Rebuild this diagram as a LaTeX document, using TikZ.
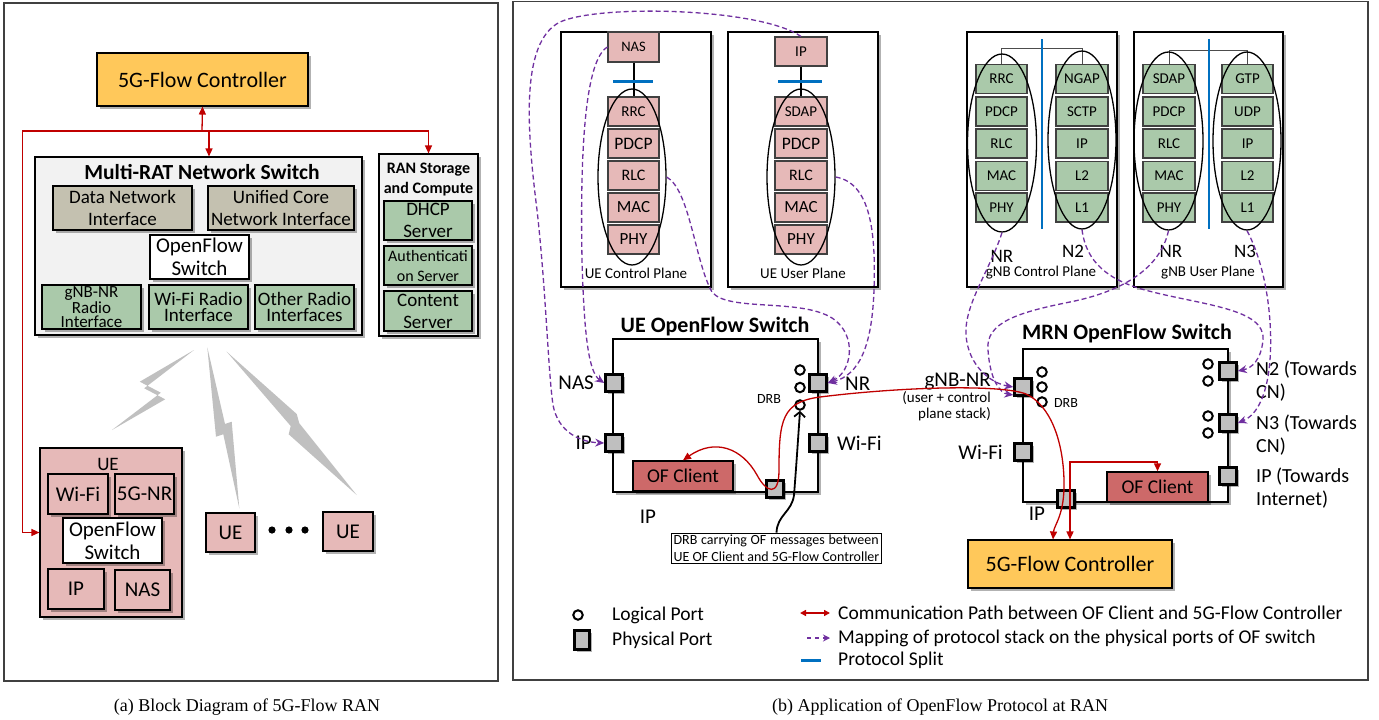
\documentclass[tikz,border=0pt]{standalone}
\usepackage{fontspec}
\setmainfont{Carlito}
\newfontfamily\capfont{Liberation Serif}
\usetikzlibrary{arrows.meta,shadows,shapes.geometric}
\newcommand\fsz[2]{\fontsize{#1}{#2}\selectfont}
\definecolor{ctl}{RGB}{255,200,90}
\definecolor{pinkc}{RGB}{230,185,184}
\definecolor{greenc}{RGB}{170,201,170}
\definecolor{beigec}{RGB}{196,193,176}
\definecolor{lgray}{RGB}{242,242,242}
\definecolor{ofc}{RGB}{205,105,105}
\definecolor{portc}{RGB}{191,191,191}
\definecolor{redc}{RGB}{192,0,0}
\definecolor{purc}{RGB}{112,48,160}
\definecolor{bluec}{RGB}{0,112,192}
\definecolor{boltc}{RGB}{192,192,192}
\begin{document}
\begin{tikzpicture}[x=1pt,y=-1pt,
  shd/.style={drop shadow={shadow xshift=2.5pt,shadow yshift=-2.5pt,opacity=0.3,fill=black}},
  mframe/.style={draw=black!75,line width=1.2pt},
  mbox/.style={draw=black,line width=1.1pt,inner sep=0pt,align=center,shd},
  stk/.style={draw=black!75,line width=1.1pt,inner sep=0pt,minimum width=51pt,minimum height=29pt,font=\fsz{15}{17}},
  mport/.style={draw=black,line width=2.6pt,fill=portc,minimum size=17pt,inner sep=0pt,shd},
  mlport/.style={circle,draw=black,line width=2pt,fill=white,minimum size=9.5pt,inner sep=0pt},
  mell/.style={ellipse,draw=black,line width=1.3pt,inner sep=0pt},
  redarr/.style={draw=redc,line width=1.3pt,-{Triangle[length=8pt,width=7pt]}},
  redboth/.style={draw=redc,line width=1.5pt,{Triangle[length=8pt,width=7pt]}-{Triangle[length=8pt,width=7pt]}},
  purarr/.style={draw=purc,line width=1.3pt,dash pattern=on 5pt off 3pt,-{Stealth[length=9pt,width=8pt]}},
  lbl/.style={inner sep=0pt,font=\fsz{21}{24}}
]
\useasboundingbox (0,0) rectangle (1379,720);
\fill[white] (0,0) rectangle (1379,720);

% ================= Panel (a) =================
\draw[mframe] (4,3) rectangle (498,681);
\node[mbox,fill=ctl,minimum width=211pt,minimum height=53pt,font=\fsz{22}{26}] (ctlA) at (202.5,79.5) {5G-Flow Controller};

\node[mbox,fill=lgray,minimum width=327pt,minimum height=178pt] (mrs) at (198.5,246) {};
\node[font=\bfseries\fsz{21.5}{24}] (mrsT) at (202,172) {Multi-RAT Network Switch};
\node[mbox,fill=beigec,minimum width=139pt,minimum height=44pt,font=\fsz{19}{22}] (dni) at (122.5,208) {Data Network\\Interface};
\node[mbox,fill=beigec,minimum width=146pt,minimum height=44pt,font=\fsz{19}{22}] (uci) at (281,208) {Unified Core\\Network Interface};
\node[mbox,fill=white,minimum width=99pt,minimum height=44pt,font=\fsz{21}{23}] (ofsA) at (199.5,257) {OpenFlow\\Switch};
\node[mbox,fill=greenc,minimum width=99pt,minimum height=44pt,font=\fsz{17}{14.5}] (gnbri) at (91.5,307) {gNB-NR\\Radio\\Interface};
\node[mbox,fill=greenc,minimum width=99pt,minimum height=44pt,font=\fsz{19}{16.5}] (wri) at (198.5,307) {Wi-Fi Radio\\Interface};
\node[mbox,fill=greenc,minimum width=99pt,minimum height=44pt,font=\fsz{19}{16.5}] (ori) at (304.5,307) {Other Radio\\Interfaces};

\node[mbox,fill=lgray,minimum width=99pt,minimum height=182pt] (rsc) at (428.5,245) {};
\node[font=\bfseries\fsz{16}{20},align=center] (rscT) at (428.5,180) {RAN Storage\\and Compute};
\node[mbox,fill=greenc,minimum width=88pt,minimum height=39pt,font=\fsz{19}{22}] (dhcp) at (428,220.5) {DHCP\\Server};
\node[mbox,fill=greenc,minimum width=88pt,minimum height=39pt,font=\fsz{16}{20}] (auth) at (428,265.5) {Authenticati\\on Server};
\node[mbox,fill=greenc,minimum width=88pt,minimum height=40pt,font=\fsz{19}{22}] (cont) at (428,311) {Content\\Server};

% lightning bolts
\fill[boltc] (194,350) -- (139.8,381.7) -- (160.8,392.7) -- (112,430) -- (165.2,399.3) -- (144.2,388.3) -- cycle;
\fill[boltc] (207.3,347.3) -- (216,436.7) -- (223.3,434.3) -- (239.3,508.3) -- (231.7,421.7) -- (225,424) -- cycle;
\fill[boltc] (226.7,351.7) -- (290.7,426) -- (288.7,434.3) -- (356.7,495) -- (299.3,423.3) -- (296.7,414) -- cycle;

% UE (a)
\node[mbox,fill=pinkc,minimum width=142pt,minimum height=169pt] (ueA) at (111,532.5) {};
\node[font=\fsz{19}{22}] (ueAT) at (108,464) {UE};
\node[mbox,fill=pinkc,minimum width=60pt,minimum height=40pt,font=\fsz{21}{23}] (ueWifi) at (78,494) {Wi-Fi};
\node[mbox,fill=pinkc,minimum width=59pt,minimum height=40pt,font=\fsz{21}{23}] (ueNR) at (144.5,494) {5G-NR};
\node[mbox,fill=white,minimum width=99pt,minimum height=45pt,font=\fsz{21}{23}] (ueOFS) at (112.5,540.5) {OpenFlow\\Switch};
\node[mbox,fill=pinkc,minimum width=56pt,minimum height=40pt,font=\fsz{21}{23}] (ueIP) at (76,589) {IP};
\node[mbox,fill=pinkc,minimum width=55pt,minimum height=40pt,font=\fsz{21}{23}] (ueNAS) at (142.5,590) {NAS};
\node[mbox,fill=pinkc,minimum width=49pt,minimum height=39pt,font=\fsz{21}{23}] (ue2) at (230.5,532.5) {UE};
\node[mbox,fill=pinkc,minimum width=50pt,minimum height=39pt,font=\fsz{21}{23}] (ue3) at (348,531.5) {UE};
\fill (272,530) circle (3.6) (289,530) circle (3.6) (305,530) circle (3.6);

% red arrows (a)
\coordinate (jA) at (202,131);
\coordinate (jB) at (209,131);
\draw[redarr] (jA) -- (ctlA.south);
\draw[redarr] (jA) -| ([xshift=-17pt]ueA.west) -- (ueA.west);
\draw[redarr] (jA) -| (rsc.north);
\draw[redarr] (jB) -- (jB |- mrs.north);

\node[font=\capfont\fsz{18}{20}] (capA) at (247,707) {(a) Block Diagram of 5G-Flow RAN};

% ================= Panel (b) =================
\draw[mframe] (513,1.5) rectangle (1368,680);

% UE control plane
\node[mbox,fill=white,line width=1.3pt,minimum width=150pt,minimum height=255pt] (ucpF) at (636,159.5) {};
\node[stk,fill=pinkc,font=\fsz{14.5}{17},minimum height=30pt] (ucpNAS) at (633.5,47) {NAS};
\node[stk,fill=pinkc] (ucpRRC) at (633.5,111.5) {RRC};
\node[stk,fill=pinkc,font=\fsz{17.5}{19}] (ucpPDCP) at (633.5,143.5) {PDCP};
\node[stk,fill=pinkc,font=\fsz{16}{18}] (ucpRLC) at (633.5,175.5) {RLC};
\node[stk,fill=pinkc,font=\fsz{17}{19}] (ucpMAC) at (633.5,207.5) {MAC};
\node[stk,fill=pinkc,font=\fsz{17}{19}] (ucpPHY) at (633.5,239.5) {PHY};
\draw[line width=2pt] (ucpNAS.south) -- (ucpRRC.north);
\draw[bluec,line width=3pt] (613,81) -- (653,81);
\node[mell,minimum width=68pt,minimum height=176pt] (ucpE) at (632,177) {};
\node[font=\fsz{15}{17}] (ucpL) at (636,273) {UE Control Plane};

% UE user plane
\node[mbox,fill=white,line width=1.3pt,minimum width=150pt,minimum height=255pt] (uupF) at (803,159.5) {};
\node[stk,fill=pinkc,minimum width=52pt] (uupIP) at (801,51.5) {IP};
\node[stk,fill=pinkc,minimum width=52pt] (uupSDAP) at (801,111.5) {SDAP};
\node[stk,fill=pinkc,minimum width=52pt,font=\fsz{17.5}{19}] (uupPDCP) at (801,143.5) {PDCP};
\node[stk,fill=pinkc,minimum width=52pt,font=\fsz{16}{18}] (uupRLC) at (801,175.5) {RLC};
\node[stk,fill=pinkc,minimum width=52pt,font=\fsz{17}{19}] (uupMAC) at (801,207.5) {MAC};
\node[stk,fill=pinkc,minimum width=52pt,font=\fsz{17}{19}] (uupPHY) at (801,239.5) {PHY};
\draw[line width=2pt] (uupIP.south) -- (uupSDAP.north);
\draw[bluec,line width=3pt] (778,81) -- (822,81);
\node[mell,minimum width=68pt,minimum height=176pt] (uupE) at (801,177) {};
\node[font=\fsz{15}{17}] (uupL) at (803,273) {UE User Plane};

% gNB control plane
\node[mbox,fill=white,line width=1.3pt,minimum width=150pt,minimum height=255pt] (gcpF) at (1042,159.5) {};
\foreach \t/\y [count=\i] in {RRC/79,PDCP/111.5,RLC/143.5,MAC/176,PHY/207.5}
  \node[stk,fill=greenc] (gcpA\i) at (1001.5,\y) {\t};
\foreach \t/\y [count=\i] in {NGAP/79,SCTP/111.5,IP/143.5,L2/176,L1/207.5}
  \node[stk,fill=greenc,minimum width=52pt] (gcpB\i) at (1082,\y) {\t};
\draw[black!70,line width=1pt] (gcpA1.north) -- ++(0,-15) -| (gcpB1.north);
\draw[bluec,line width=2.2pt] (1042,39) -- (1042,229);
\node[mell,minimum width=69pt,minimum height=178pt] (gcpE1) at (1002,143) {};
\node[mell,minimum width=68pt,minimum height=178pt] (gcpE2) at (1082,140) {};
\node[font=\fsz{19}{21}] (gcpNR) at (1002,256) {NR};
\node[font=\fsz{19}{21}] (gcpN2) at (1073,251) {N2};
\node[font=\fsz{15}{17}] (gcpL) at (1041,273) {gNB Control Plane};

% gNB user plane
\node[mbox,fill=white,line width=1.3pt,minimum width=149pt,minimum height=255pt] (gupF) at (1208.5,159.5) {};
\foreach \t/\y [count=\i] in {SDAP/79,PDCP/111.5,RLC/143.5,MAC/176,PHY/207.5}
  \node[stk,fill=greenc,minimum width=52pt] (gupA\i) at (1169,\y) {\t};
\foreach \t/\y [count=\i] in {GTP/79,UDP/111.5,IP/143.5,L2/176,L1/207.5}
  \node[stk,fill=greenc] (gupB\i) at (1247.5,\y) {\t};
\draw[black!70,line width=1pt] (gupA1.north) -- ++(0,-13) -| (gupB1.north);
\draw[bluec,line width=2.2pt] (1209,39) -- (1209,229);
\node[mell,minimum width=69pt,minimum height=178pt] (gupE1) at (1168.5,141) {};
\node[mell,minimum width=68pt,minimum height=178pt] (gupE2) at (1247,141) {};
\node[font=\fsz{19}{21}] (gupNR) at (1171,251) {NR};
\node[font=\fsz{19}{21}] (gupN3) at (1245,251) {N3};
\node[font=\fsz{15}{17}] (gupL) at (1208,273) {gNB User Plane};

% UE OpenFlow switch
\node[font=\bfseries\fsz{22}{24}] (ueSwT) at (715,327) {UE OpenFlow Switch};
\node[draw=black,line width=2pt,fill=white,minimum width=205pt,minimum height=153pt,inner sep=0pt,shd] (ueSw) at (715.5,415.5) {};
\node[mbox,fill=ofc,line width=1.5pt,minimum width=100pt,minimum height=30pt,font=\fsz{19.5}{22}] (ofU) at (683,476) {OF Client};
\node[mport] (pNAS) at (614,383) {};
\node[mport] (pIPu) at (614,443) {};
\node[mport] (pNR) at (818,383) {};
\node[mport] (pWiFiU) at (818,443) {};
\node[mport] (pBotU) at (775,489) {};
\node[mlport] (lU1) at (800,370) {};
\node[mlport] (lU2) at (800,387.5) {};
\node[mlport] (lU3) at (800,405) {};
\node[font=\fsz{14}{16}] (drbU) at (769,399) {DRB};
\node[lbl,anchor=east] (tNAS) at (594,383) {NAS};
\node[lbl,anchor=east] (tIPu) at (592,443) {IP};
\node[lbl,anchor=west] (tNR) at (845,384) {NR};
\node[lbl,anchor=west] (tWiFiU) at (837,443) {Wi-Fi};
\node[lbl] (tIPb) at (648,517) {IP};
\node[draw=black,line width=0.8pt,fill=white,inner xsep=2pt,inner ysep=1.5pt,align=left,font=\fsz{14}{17}] (drbNote) at (776.5,548) {\makebox[205pt][s]{DRB carrying OF messages between}\\UE OF Client and 5G-Flow Controller};

% MRN OpenFlow switch
\node[font=\bfseries\fsz{22}{24}] (mrnT) at (1127,334) {MRN OpenFlow Switch};
\node[draw=black,line width=2pt,fill=white,minimum width=205pt,minimum height=153pt,inner sep=0pt,shd] (mrnSw) at (1125.5,425.5) {};
\node[mbox,fill=ofc,line width=1.5pt,minimum width=101pt,minimum height=30pt,font=\fsz{19.5}{22}] (ofM) at (1157.5,487) {OF Client};
\node[mport] (pGNB) at (1023,387) {};
\node[mport] (pWiFiM) at (1023,452) {};
\node[mport] (pIPM) at (1066,499) {};
\node[mport] (pN2) at (1228,371) {};
\node[mport] (pN3) at (1228,423) {};
\node[mport] (pIPR) at (1228,476) {};
\node[mlport] (lM1) at (1042,372) {};
\node[mlport] (lM2) at (1042,387) {};
\node[mlport] (lM3) at (1042,402) {};
\node[mlport] (lM4) at (1208,364) {};
\node[mlport] (lM5) at (1208,381) {};
\node[mlport] (lM6) at (1208,416) {};
\node[mlport] (lM7) at (1208,433) {};
\node[font=\fsz{14}{16}] (drbM) at (1066,403) {DRB};
\node[lbl,anchor=east] (tWiFiM) at (1003,452) {Wi-Fi};
\node[lbl] (tIPM) at (1037,514) {IP};
\node[lbl,anchor=east] (tGNB) at (991,382) {gNB-NR};
\node[inner sep=0pt,anchor=east,align=right,font=\fsz{15}{16.5}] (tGNB2) at (991,406) {(user + control\\plane stack)};
\node[inner sep=0pt,anchor=west,align=left,font=\fsz{20}{22.5}] (tN2) at (1256,381) {N2 (Towards\\CN)};
\node[inner sep=0pt,anchor=west,align=left,font=\fsz{20}{23}] (tN3) at (1256,435) {N3 (Towards\\CN)};
\node[inner sep=0pt,anchor=west,align=left,font=\fsz{20}{23}] (tIPR) at (1256,488) {IP (Towards\\Internet)};
\node[mbox,fill=ctl,minimum width=204pt,minimum height=48pt,font=\fsz{22}{26}] (ctlB) at (1070,564) {5G-Flow Controller};

% dashed mapping arrows
\draw[purarr] (ucpNAS.west) .. controls (585,60) and (580,150) .. (582,260) .. controls (584,330) and (588,372) .. (pNAS.west);
\draw[purarr] (uupIP.north) .. controls (760,8) and (600,4) .. (560,22) .. controls (520,42) and (527,130) .. (537,210) .. controls (546,290) and (548,370) .. (553,405) .. controls (558,432) and (580,442) .. (pIPu.west);
\draw[purarr] (ucpE.east) .. controls (690,190) and (695,262) .. (712,292) .. controls (728,312) and (800,298) .. (832,318) .. controls (858,335) and (852,372) .. (pNR.east);
\draw[purarr] (uupE.east) .. controls (870,183) and (876,230) .. (874,290) .. controls (872,345) and (860,375) .. (pNR.east);
\draw[purarr] (gcpE1.south) .. controls (990,270) and (964,305) .. (966,335) .. controls (968,365) and (990,383) .. (pGNB.west);
\draw[purarr] (gupE1.south) .. controls (1160,270) and (1120,292) .. (1070,302) .. controls (1020,312) and (985,322) .. (988,350) .. controls (990,380) and (1000,393) .. ([yshift=-8pt]pGNB.west);
\draw[purarr] (gcpE2.south) .. controls (1086,262) and (1108,280) .. (1145,290) .. controls (1200,305) and (1266,308) .. (1263,340) .. controls (1261,360) and (1252,368) .. (pN2.east);
\draw[purarr] (gupE2.south) .. controls (1268,270) and (1274,330) .. (1269,370) .. controls (1265,400) and (1255,416) .. (pN3.east);

% red communication paths
\draw[redc,line width=1.3pt,{Triangle[length=8pt,width=7pt]}-{Triangle[length=8pt,width=7pt]}]
  (ofU.north) .. controls (715,438) and (742,448) .. (757,475) .. controls (766,492) and (779,498) .. (779,470)
  .. controls (779,420) and (782,402) .. (820,397) .. controls (900,387) and (1000,384) .. (1026,394)
  .. controls (1050,405) and (1063,440) .. (1064,480) .. controls (1065,515) and (1054,525) .. ([xshift=-17pt]ctlB.north);
\coordinate (r2k) at (1070,462);
\draw[redboth] (ctlB.north) -- (r2k) -| (ofM.north);

% black DRB arrow
\draw[line width=1.8pt,-{Straight Barb[length=5pt,width=11pt]}] (drbNote.north) .. controls (777,515) and (792,512) .. (794,495) .. controls (796,470) and (798,440) .. (lU3.south);

% legend
\node[mlport] (lgL) at (578,615) {};
\node[anchor=west,inner sep=0pt,font=\fsz{19.5}{22}] (lgLt) at (612,615) {Logical Port};
\node[mport,minimum width=15pt,minimum height=19pt] (lgP) at (582,640) {};
\node[anchor=west,inner sep=0pt,font=\fsz{19.5}{22}] (lgPt) at (612,640) {Physical Port};
\coordinate (lgR1) at (800,613); \coordinate (lgR2) at (830,613);
\draw[redc,line width=1.5pt,{Triangle[length=6pt,width=6pt]}-{Triangle[length=6pt,width=6pt]}] (lgR1) -- (lgR2);
\node[anchor=west,inner sep=0pt,font=\fsz{19.5}{22}] (lgRt) at (838,613) {Communication Path between OF Client and 5G-Flow Controller};
\coordinate (lgM1) at (807,638); \coordinate (lgM2) at (830,638);
\draw[draw=purc,line width=1.3pt,dash pattern=on 4pt off 4pt,-{Stealth[length=7pt,width=7pt]}] (lgM1) -- (lgM2);
\node[anchor=west,inner sep=0pt,font=\fsz{19.5}{22}] (lgMt) at (838,638) {Mapping of protocol stack on the physical ports of OF switch};
\coordinate (lgB1) at (801,660); \coordinate (lgB2) at (821,660);
\draw[bluec,line width=3pt] (lgB1) -- (lgB2);
\node[anchor=west,inner sep=0pt,font=\fsz{19.5}{22}] (lgBt) at (838,660) {Protocol Split};

\node[font=\capfont\fsz{18}{20}] (capB) at (940,707) {(b) Application of OpenFlow Protocol at RAN};
\end{tikzpicture}
\end{document}
